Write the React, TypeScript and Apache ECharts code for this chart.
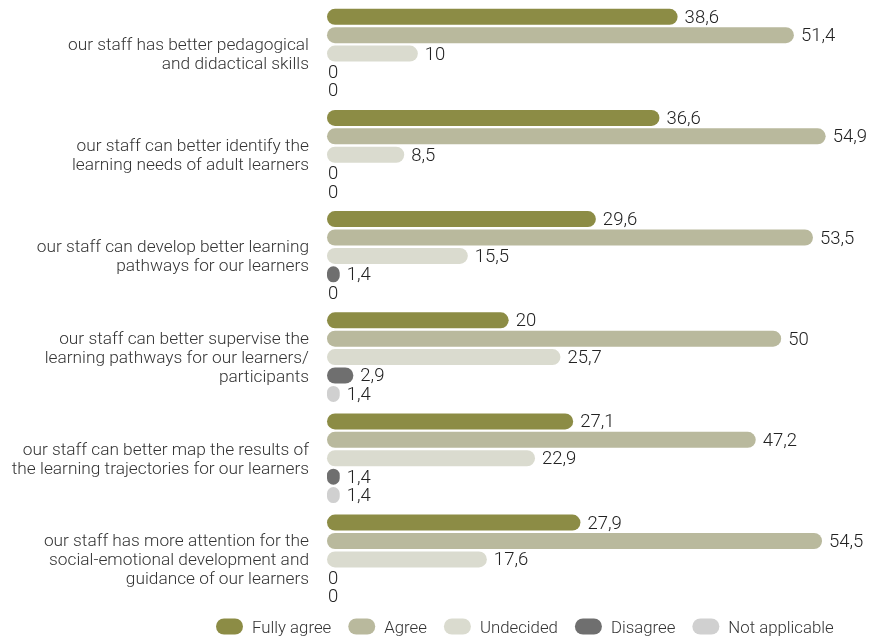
import React, { useEffect, useRef } from "react";
import * as echarts from "echarts";

const categories = [
  "our staff has better pedagogical\nand didactical skills",
  "our staff can better identify the\nlearning needs of adult learners",
  "our staff can develop better learning\npathways for our learners",
  "our staff can better supervise the\nlearning pathways for our learners/\nparticipants",
  "our staff can better map the results of\nthe learning trajectories for our learners",
  "our staff has more attention for the\nsocial-emotional development and\nguidance of our learners",
];

const seriesNames = ["Fully agree", "Agree", "Undecided", "Disagree", "Not applicable"];
const fullyAgree = [38.6, 36.6, 29.6, 20, 27.1, 27.9];
const agree = [51.4, 54.9, 53.5, 50, 47.2, 54.5];
const undecided = [10, 8.5, 15.5, 25.7, 22.9, 17.6];
const disagree = [0, 0, 1.4, 2.9, 1.4, 0];
const notApplicable = [0, 0, 0, 1.4, 1.4, 0];
const colors = ["#8c8c45", "#b9b99d", "#dadbcf", "#6f6f6f", "#d0d0d0"];

const FONT = "Roboto";

export default function App() {
  const ref = useRef<HTMLDivElement>(null);
  useEffect(() => {
    if (!ref.current) return;
    const chart = echarts.init(ref.current, undefined, { renderer: "svg" });
    const all = [fullyAgree, agree, undecided, disagree, notApplicable];
    const series = all.map((vals, i) => ({
      name: seriesNames[i],
      type: "bar",
      barWidth: 16,
      barGap: "15%",
      barCategoryGap: "12%",
      itemStyle: { color: colors[i], borderRadius: 8 },
      label: {
        show: true,
        position: "right",
        distance: 7,
        fontFamily: FONT,
        fontWeight: 300,
        fontSize: 18.5,
        color: "#222",
        formatter: (p: any) => String(p.value).replace(".", ","),
      },
      data: vals.map((v) =>
        v === 0 ? { value: v, label: { distance: 1 } } : { value: v }
      ),
    }));
    chart.setOption({
      animation: false,
      textStyle: { fontFamily: FONT },
      grid: { left: 327, top: 3, width: 545, height: 607, containLabel: false },
      xAxis: {
        type: "value",
        min: 0,
        max: 60,
        show: false,
        splitLine: { show: false },
      },
      yAxis: {
        type: "category",
        inverse: true,
        data: categories,
        axisLine: { show: false },
        axisTick: { show: false },
        axisLabel: {
          margin: 18,
          fontFamily: FONT,
          fontWeight: 300,
          fontSize: 17.3,
          lineHeight: 19,
          color: "#333",
          align: "right",
        },
      },
      legend: {
        left: 211,
        top: 613,
        itemWidth: 27,
        itemHeight: 16,
        itemGap: 17,
        icon: "path://M8,0 H19 A8,8 0 0 1 19,16 H8 A8,8 0 0 1 8,0 Z",
        textStyle: {
          fontFamily: FONT,
          fontWeight: 300,
          fontSize: 16.8,
          color: "#333",
          padding: [0, 0, 0, 4],
        },
        data: seriesNames,
      },
      series,
    });
    return () => chart.dispose();
  }, []);
  return (
    <div
      ref={ref}
      style={{ position: "fixed", left: 0, top: 0, width: 876, height: 637 }}
    />
  );
}
